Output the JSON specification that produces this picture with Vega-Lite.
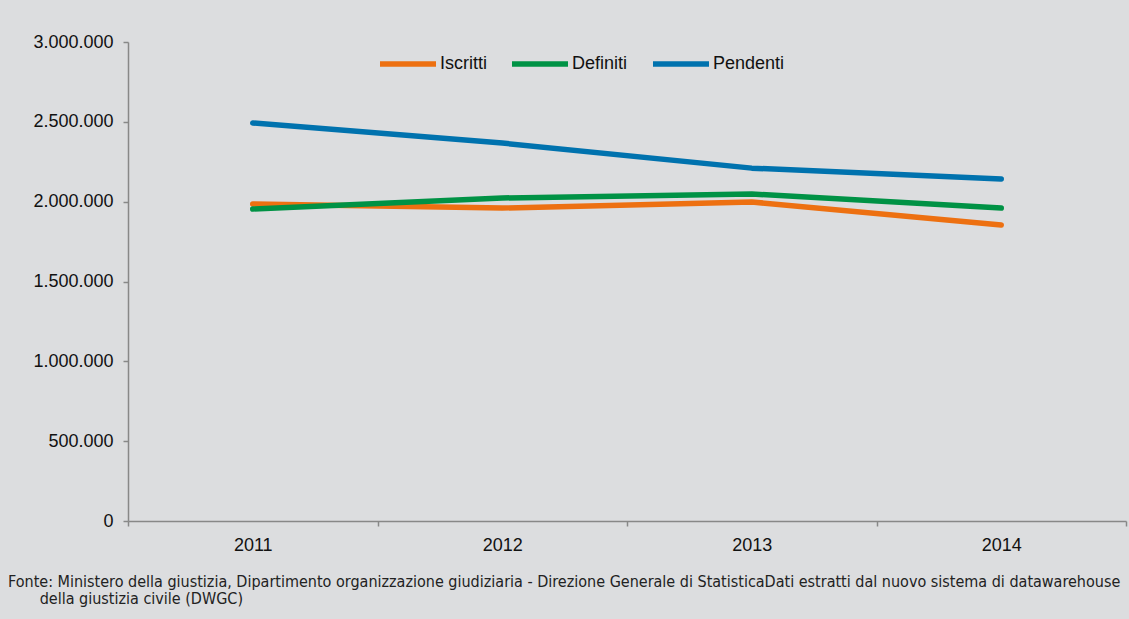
{
  "$schema": "https://vega.github.io/schema/vega-lite/v6.json",
  "width": 998,
  "height": 479,
  "autosize": {"type": "none"},
  "padding": {"left": 128, "top": 42, "right": 3, "bottom": 98},
  "background": "#dcdddf",
  "config": {
    "locale": {"number": {"decimal": ",", "thousands": ".", "grouping": [3], "currency": ["€", ""]}},
    "view": {"stroke": null},
    "font": "Liberation Sans"
  },
  "title": {
    "text": ["Fonte: Ministero della giustizia, Dipartimento organizzazione giudiziaria - Direzione Generale di StatisticaDati estratti dal nuovo sistema di datawarehouse", "\u2800\u2800\u2800della giustizia civile (DWGC)"],
    "orient": "bottom",
    "anchor": "start",
    "frame": "group",
    "dx": -120,
    "offset": 20,
    "font": "DejaVu Sans Condensed",
    "fontSize": 16,
    "fontWeight": "normal",
    "color": "#222222",
    "lineHeight": 17,
    "baseline": "top"
  },
  "data": {
    "values": [
      {"anno": "2011", "serie": "Iscritti", "valore": 1985000},
      {"anno": "2012", "serie": "Iscritti", "valore": 1960000},
      {"anno": "2013", "serie": "Iscritti", "valore": 1998000},
      {"anno": "2014", "serie": "Iscritti", "valore": 1854000},
      {"anno": "2011", "serie": "Definiti", "valore": 1954000},
      {"anno": "2012", "serie": "Definiti", "valore": 2023000},
      {"anno": "2013", "serie": "Definiti", "valore": 2048000},
      {"anno": "2014", "serie": "Definiti", "valore": 1960000},
      {"anno": "2011", "serie": "Pendenti", "valore": 2493000},
      {"anno": "2012", "serie": "Pendenti", "valore": 2367000},
      {"anno": "2013", "serie": "Pendenti", "valore": 2210000},
      {"anno": "2014", "serie": "Pendenti", "valore": 2142000}
    ]
  },
  "mark": {"type": "line", "strokeWidth": 5.5, "strokeCap": "round", "strokeJoin": "round"},
  "encoding": {
    "x": {
      "field": "anno", "type": "ordinal", "bandPosition": 0.5,
      "scale": {"type": "band", "paddingInner": 0, "paddingOuter": 0},
      "axis": {
        "title": null, "labelAngle": 0, "tickBand": "extent", "grid": false,
        "domainColor": "#888888", "domainWidth": 1.5, "tickColor": "#888888", "tickWidth": 1.5, "tickSize": 5,
        "labelFontSize": 18, "labelColor": "#111111", "labelPadding": 10
      }
    },
    "y": {
      "field": "valore", "type": "quantitative",
      "scale": {"domain": [0, 3000000], "nice": false},
      "axis": {
        "title": null, "values": [0, 500000, 1000000, 1500000, 2000000, 2500000, 3000000], "format": ",d", "grid": false,
        "domainColor": "#888888", "domainWidth": 1.5, "tickColor": "#888888", "tickWidth": 1.5, "tickSize": 5,
        "labelFontSize": 18, "labelColor": "#111111", "labelPadding": 10
      }
    },
    "color": {
      "field": "serie", "type": "nominal",
      "scale": {"domain": ["Iscritti", "Definiti", "Pendenti"], "range": ["#ed7011", "#009245", "#0072ae"]},
      "legend": {
        "title": null, "orient": "none", "direction": "horizontal", "legendX": 249, "legendY": -9,
        "symbolType": "stroke", "symbolSize": 3136, "symbolStrokeWidth": 5.5,
        "labelFontSize": 18, "labelColor": "#111111", "labelOffset": 1, "columnPadding": 14
      }
    }
  }
}
